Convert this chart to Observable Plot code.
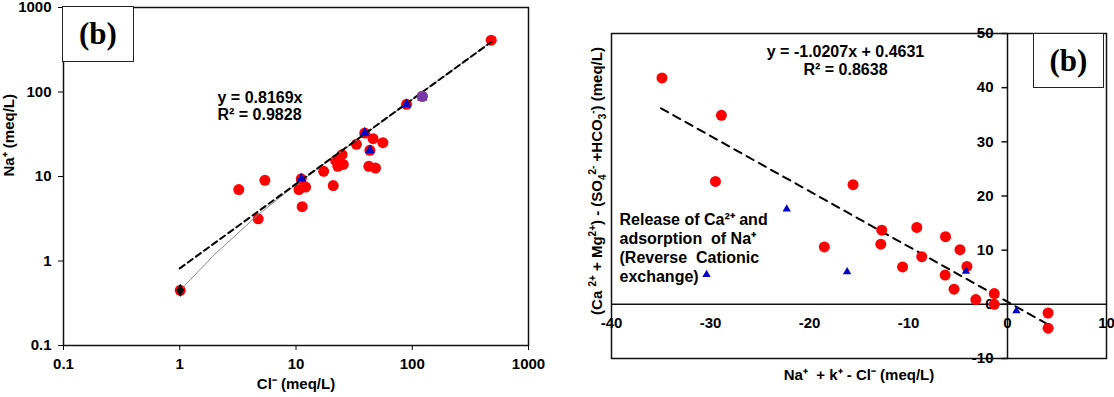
<!DOCTYPE html>
<html><head><meta charset="utf-8">
<script src="https://cdn.jsdelivr.net/npm/d3@7"></script>
<script src="https://cdn.jsdelivr.net/npm/@observablehq/plot@0.6"></script>
<style>
html,body{margin:0;padding:0;background:#fff;}
#wrap{position:relative;width:1114px;height:397px;overflow:hidden;background:#fff;}
#wrap svg{position:absolute;top:0;}
.box{position:absolute;border:1.5px solid #222;background:#fff;box-sizing:border-box;font-family:"Liberation Serif","Times New Roman",serif;font-weight:bold;font-size:31px;display:flex;align-items:center;justify-content:center;color:#000;}
.vlabel{position:absolute;white-space:nowrap;font-family:Arial,"Liberation Sans",sans-serif;font-weight:bold;font-size:15px;color:#000;transform-origin:0 0;transform:rotate(-90deg) translate(-50%,-50%);line-height:1;}
.vlabel sup,.vlabel sub{font-size:10px;line-height:0;}
</style></head><body><div id="wrap"></div>
<script>
// ---------- Left panel (log-log Na+ vs Cl-) ----------
const clRed = [478, 122, 89.3, 39, 46, 55.9, 33.1, 43.2, 24.9, 21.9, 25.5, 22.9, 42.3, 48.3, 17.3, 11.1, 5.4, 3.22, 10.6, 12.1, 20.9, 11.3, 4.73, 1.01];
const naRed = [410, 89, 71.5, 32.7, 28, 25.1, 24, 20.4, 18.1, 15.5, 13.9, 13.2, 13.2, 12.6, 11.5, 9.4, 9.0, 7.0, 7.0, 7.5, 7.8, 4.4, 3.16, 0.45];
const clTri = [11.1, 39, 43.2, 89.3, 122];
const naTri = [9.4, 32.7, 20.4, 71.5, 86];
const clMix = [122];
const naMix = [89];
const clDia = [1.01];
const naDia = [0.45];
const grayX = [1.01, 2, 4.8, 10, 478];
const grayY = [0.45, 1.2, 3.6, 8.0, 395];
const fitLX = [1, 478];
const slopeL = 0.8169;
const xTicksL = [0.1, 1, 10, 100, 1000];
const yTicksL = [0.1, 1, 10, 100, 1000];
const eqL = "y = 0.8169x\nR² = 0.9828";
const xLabelL = "Cl⁻ (meq/L)";
const yLabelL = "Na⁺ (meq/L)";

// ---------- Right panel ----------
const xRed = [-34.9, -28.9, -29.5, -15.6, -18.5, -12.7, -12.8, -9.16, -6.26, -4.8, -8.66, -10.6, -4.1, -6.3, -5.4, -3.2, -1.34, -1.34, 4.1, 4.1];
const yRed = [41.8, 34.9, 22.7, 22.1, 10.6, 13.7, 11.1, 14.2, 12.5, 10.1, 8.8, 6.9, 7.0, 5.4, 2.8, 0.87, 1.98, 0, -1.6, -4.4];
const xTri = [-22.3, -30.4, -16.2, -4.2, 0.9];
const yTri = [17.6, 5.5, 6.0, 6.1, -1.2];
const fitRX = [-35, 4.1];
const slopeR = -1.0207, interR = 0.4631;
const xTicksR = [-40, -30, -20, -10, 0, 10];
const yTicksR = [-10, 0, 10, 20, 30, 40, 50];
const eqR = "y = -1.0207x + 0.4631\nR² = 0.8638";
const noteR = "Release of Ca²⁺ and\nadsorption  of Na⁺\n(Reverse  Cationic\nexchange)";
const xLabelR = "Na⁺  + k⁺ - Cl⁻ (meq/L)";
// y label pieces: [text, kind] kind: "" normal, "sup", "sub"
const yLabelRParts = [["(Ca ", ""], ["2+", "sup"], [" + Mg", ""], ["2+", "sup"], [") - (SO", ""], ["4", "sub"], ["2-", "sup"], [" +HCO", ""], ["3", "sub"], ["-", "sup"], [") (meq/L)", ""]];
const panelTag = "(b)";

const RED = "#ff0000", BLUE = "#0000c8";
const font = "Arial, 'Liberation Sans', sans-serif";
const zip = (xs, ys) => xs.map((x, i) => ({x, y: ys[i]}));

const left = Plot.plot({
  width: 557, height: 397,
  marginLeft: 63, marginRight: 29, marginTop: 7, marginBottom: 52,
  style: {fontFamily: font, fontSize: "15px", fontWeight: "bold", color: "#000", background: "transparent", overflow: "visible"},
  x: {type: "log", domain: [0.1, 1000], ticks: xTicksL, tickFormat: d => String(d), tickSize: 5, tickPadding: 8, label: null},
  y: {type: "log", domain: [0.1, 1000], ticks: yTicksL, tickFormat: d => String(d), tickSize: 5, tickPadding: 7, label: null},
  marks: [
    Plot.frame({stroke: "#111", strokeWidth: 1.5}),
    Plot.dot(zip(clRed, naRed), {x: "x", y: "y", r: 5.5, fill: RED}),
    Plot.line(zip(grayX, grayY), {x: "x", y: "y", stroke: "#888", strokeWidth: 1}),
    Plot.line(fitLX.map(x => ({x, y: slopeL * x})), {x: "x", y: "y", stroke: "#000", strokeWidth: 2, strokeDasharray: "6,4"}),
    Plot.dot(zip(clTri, naTri), {x: "x", y: "y", symbol: "triangle", r: 3.8, fill: BLUE}),
    Plot.dot(zip(clMix, naMix), {x: "x", y: "y", r: 5.5, fill: "#7a3aa6"}),
    Plot.dot(zip(clDia, naDia), {x: "x", y: "y", symbol: "diamond", r: 4, fill: "#000"}),
    Plot.text([eqL], {text: d => d, frameAnchor: "top-left", dx: 154, dy: 83, textAnchor: "start", lineAnchor: "top", lineHeight: 1.08, fontSize: 16}),
    Plot.text([xLabelL], {text: d => d, frameAnchor: "bottom", dy: 43, fontSize: 15}),
    Plot.text([yLabelL], {text: d => d, frameAnchor: "left", dx: -54, rotate: -90, fontSize: 15})
  ]
});

const tickSym = {draw(ctx) { ctx.moveTo(-6, 0); ctx.lineTo(0, 0); }};

const right = Plot.plot({
  width: 557, height: 397,
  marginLeft: 54, marginRight: 8, marginTop: 33, marginBottom: 39,
  style: {fontFamily: font, fontSize: "14px", fontWeight: "bold", color: "#000", background: "transparent", overflow: "visible"},
  x: {domain: [-40, 10], axis: null},
  y: {domain: [-10, 50], axis: null},
  marks: [
    Plot.frame({stroke: "#111", strokeWidth: 1.5}),
    Plot.ruleY([0], {stroke: "#111", strokeWidth: 1.5}),
    Plot.ruleX([0], {stroke: "#111", strokeWidth: 1.5}),
    Plot.dot(yTicksR, {x: 0, y: d => d, symbol: tickSym, stroke: "#111", strokeWidth: 1.5, fill: "none"}),
    Plot.text(xTicksR, {x: d => d, y: 0, dy: 19, text: d => String(d), fontSize: 15}),
    Plot.text(yTicksR, {x: 0, y: d => d, dx: -14, textAnchor: "end", text: d => String(d), fontSize: 15}),
    Plot.line(fitRX.map(x => ({x, y: slopeR * x + interR})), {x: "x", y: "y", stroke: "#000", strokeWidth: 2, strokeDasharray: "8,6"}),
    Plot.dot(zip(xRed, yRed), {x: "x", y: "y", r: 5.5, fill: RED}),
    Plot.dot(zip(xTri, yTri), {x: "x", y: "y", symbol: "triangle", r: 3.1, fill: BLUE}),
    Plot.text([eqR], {text: d => d, frameAnchor: "top-left", dx: 234, dy: 11, textAnchor: "middle", lineAnchor: "top", lineHeight: 1.12, fontSize: 16}),
    Plot.text([noteR], {text: d => d, frameAnchor: "top-left", dx: 8, dy: 178, textAnchor: "start", lineAnchor: "top", lineHeight: 1.19, fontSize: 16}),
    Plot.text([xLabelR], {text: d => d, frameAnchor: "bottom", dy: 21, fontSize: 15})
  ]
});

const wrap = document.getElementById("wrap");
left.style.left = "0px";
right.style.left = "557px";
wrap.appendChild(left);
wrap.appendChild(right);

// rotated y-axis title of the right panel, with real super/subscripts
const vl = document.createElement("div");
vl.className = "vlabel";
vl.style.left = "596px";
vl.style.top = "181px";
for (const [t, kind] of yLabelRParts) {
  const el = kind ? document.createElement(kind) : document.createElement("span");
  el.textContent = t;
  vl.appendChild(el);
}
wrap.appendChild(vl);

function addBox(l, t, w, h) {
  const b = document.createElement("div");
  b.className = "box";
  b.style.left = l + "px"; b.style.top = t + "px";
  b.style.width = w + "px"; b.style.height = h + "px";
  b.textContent = panelTag;
  wrap.appendChild(b);
}
addBox(62, 6, 72, 56);
addBox(1033, 33, 71, 55);
</script></body></html>
